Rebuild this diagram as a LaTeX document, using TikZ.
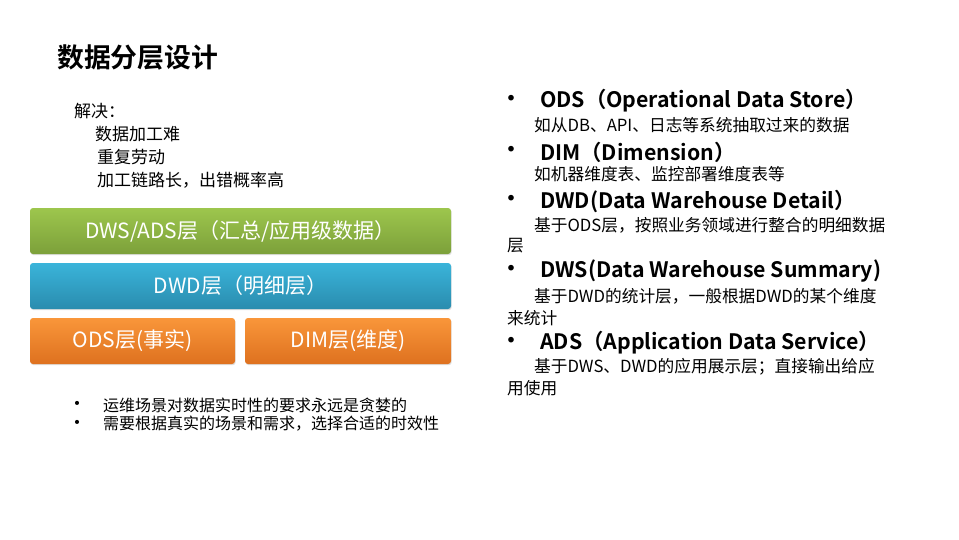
\documentclass[tikz,border=0pt]{standalone}
\usepackage{fontspec}
\setmainfont{Noto Sans CJK SC}[BoldFont={Noto Sans CJK SC Bold}]
\usetikzlibrary{shadows}
\definecolor{greentop}{HTML}{9DC64D}
\definecolor{greenbot}{HTML}{7CA03A}
\definecolor{bluetop}{HTML}{3AB4DA}
\definecolor{bluebot}{HTML}{2A8CAE}
\definecolor{orangetop}{HTML}{F9963A}
\definecolor{orangebot}{HTML}{DE711F}
\newcommand{\fs}[1]{\fontsize{#1}{#1}\selectfont}

\tikzset{
  layerbox/.style={rounded corners=3pt, text=white, font=\fs{21},
    minimum height=46pt, inner sep=0pt,
    drop shadow={opacity=0.25, shadow xshift=0.7pt, shadow yshift=-1.2pt}},
  lefttext/.style={anchor=west, inner sep=0pt, font=\fs{17}},
  head/.style={anchor=west, inner sep=0pt, font=\bfseries\fs{21.3}},
  desc/.style={anchor=west, inner sep=0pt, font=\fs{16.7}},
  dot/.style={anchor=center, inner sep=0pt, font=\bfseries\fs{22}},
  smalldot/.style={anchor=center, inner sep=0pt, font=\bfseries\fs{16}}
}

\begin{document}
\begin{tikzpicture}[x=1pt,y=-1pt]
  \useasboundingbox[fill=white] (0,0) rectangle (959,539);

% title
  \node[anchor=west, inner sep=0pt, font=\bfseries\fs{26.8}] (title) at (57,57) {数据分层设计};

% problems
  \node[lefttext] (solve) at (74,111) {解决：};
  \node[lefttext] (p1) at (95,134) {数据加工难};
  \node[lefttext] (p2) at (97,157) {重复劳动};
  \node[lefttext] (p3) at (97,180) {加工链路长，出错概率高};

% layers
  \node[layerbox, minimum width=421pt, top color=greentop, bottom color=greenbot] (dws) at (240.5,231) {DWS/ADS层（汇总/应用级数据）};
  \node[layerbox, minimum width=421pt, top color=bluetop, bottom color=bluebot] (dwd) at (240.5,286) {DWD层（明细层）};
  \node[layerbox, minimum width=205pt, top color=orangetop, bottom color=orangebot] (ods) at (132.5,341) {ODS层(事实)};
  \node[layerbox, minimum width=206pt, top color=orangetop, bottom color=orangebot] (dim) at (348,341) {DIM层(维度)};

% notes
  \node[smalldot] (d1) at (77,405) {•};
  \node[lefttext, font=\fs{16}] (n1) at (103,405) {运维场景对数据实时性的要求永远是贪婪的};
  \node[smalldot] (d2) at (77,424) {•};
  \node[lefttext, font=\fs{16}] (n2) at (103,424) {需要根据真实的场景和需求，选择合适的时效性};

% right column
  \node[dot] (b1) at (511,101) {•};
  \node[head] (h1) at (540,101) {ODS（Operational Data Store）};
  \node[desc] (t1) at (534,125) {如从DB、API、日志等系统抽取过来的数据};

  \node[dot] (b2) at (511,152) {•};
  \node[head] (h2) at (540,152) {DIM（Dimension）};
  \node[desc] (t2) at (534,174) {如机器维度表、监控部署维度表等};

  \node[dot] (b3) at (511,201) {•};
  \node[head] (h3) at (540,201) {DWD(Data Warehouse Detail）};
  \node[desc] (t3) at (534,225) {基于ODS层，按照业务领域进行整合的明细数据};
  \node[desc] (t3b) at (507,246) {层};

  \node[dot] (b4) at (511,271) {•};
  \node[head] (h4) at (540,271) {DWS(Data Warehouse Summary)};
  \node[desc] (t4) at (534,296) {基于DWD的统计层，一般根据DWD的某个维度};
  \node[desc] (t4b) at (507,318) {来统计};

  \node[dot] (b5) at (511,343) {•};
  \node[head] (h5) at (540,343) {ADS（Application Data Service）};
  \node[desc] (t5) at (534,367) {基于DWS、DWD的应用展示层；直接输出给应};
  \node[desc] (t5b) at (507,388) {用使用};
\end{tikzpicture}
\end{document}
